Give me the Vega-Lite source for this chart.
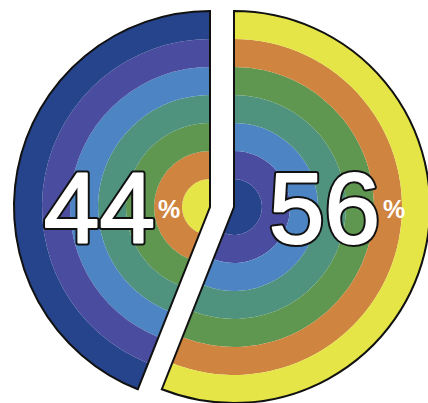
{
  "$schema": "https://vega.github.io/schema/vega-lite/v6.json",
  "width": 428,
  "height": 392,
  "padding": {"top": 11, "left": 0, "right": 0, "bottom": 0},
  "autosize": "none",
  "background": "white",
  "config": {"view": {"stroke": null}},
  "data": {
    "values": [
      {"side": "56%", "value": 56, "ring": 1, "inner": 0, "outer": 1, "band": "darkblue"},
      {"side": "56%", "value": 56, "ring": 2, "inner": 1, "outer": 2, "band": "purple"},
      {"side": "56%", "value": 56, "ring": 3, "inner": 2, "outer": 3, "band": "lightblue"},
      {"side": "56%", "value": 56, "ring": 4, "inner": 3, "outer": 4, "band": "teal"},
      {"side": "56%", "value": 56, "ring": 5, "inner": 4, "outer": 5, "band": "green"},
      {"side": "56%", "value": 56, "ring": 6, "inner": 5, "outer": 6, "band": "orange"},
      {"side": "56%", "value": 56, "ring": 7, "inner": 6, "outer": 7, "band": "yellow"},
      {"side": "44%", "value": 44, "ring": 1, "inner": 0, "outer": 1, "band": "yellow"},
      {"side": "44%", "value": 44, "ring": 2, "inner": 1, "outer": 2, "band": "orange"},
      {"side": "44%", "value": 44, "ring": 3, "inner": 2, "outer": 3, "band": "green"},
      {"side": "44%", "value": 44, "ring": 4, "inner": 3, "outer": 4, "band": "teal"},
      {"side": "44%", "value": 44, "ring": 5, "inner": 4, "outer": 5, "band": "lightblue"},
      {"side": "44%", "value": 44, "ring": 6, "inner": 5, "outer": 6, "band": "purple"},
      {"side": "44%", "value": 44, "ring": 7, "inner": 6, "outer": 7, "band": "darkblue"}
    ]
  },
  "transform": [
    {"stack": "value", "groupby": ["ring"], "sort": [{"field": "side", "order": "descending"}], "as": ["t0", "t1"]}
  ],
  "layer": [
    {
      "encoding": {
        "x": {"field": "side", "type": "nominal", "scale": {"type": "point", "domain": ["44%", "56%"], "range": [210, 234], "padding": 0}, "axis": null},
        "theta": {"field": "t0", "type": "quantitative", "scale": {"domain": [0, 100]}},
        "theta2": {"field": "t1"}
      },
      "layer": [
        {
          "mark": {"type": "arc", "strokeWidth": 0},
          "encoding": {
            "radius": {"field": "outer", "type": "quantitative", "scale": {"type": "linear", "domain": [0, 7], "zero": true}},
            "radius2": {"field": "inner"},
            "color": {
              "field": "band", "type": "nominal", "legend": null,
              "scale": {
                "domain": ["yellow", "orange", "green", "teal", "lightblue", "purple", "darkblue"],
                "range": ["#e5e547", "#cf8540", "#5f9650", "#4f937f", "#4d84c4", "#4a4c9f", "#26448b"]
              }
            }
          }
        },
        {
          "transform": [{"filter": "datum.ring == 7"}],
          "mark": {"type": "arc", "filled": false, "stroke": "#111111", "strokeWidth": 2, "strokeJoin": "miter"},
          "encoding": {
            "radius": {"field": "outer", "type": "quantitative", "scale": {"type": "linear", "domain": [0, 7], "zero": true}}
          }
        }
      ]
    },
    {
      "transform": [{"filter": "datum.ring == 7"}],
      "encoding": {
        "x": {"field": "side", "type": "nominal", "scale": {"type": "point", "domain": ["44%", "56%"], "range": [155, 380], "padding": 0}, "axis": null}
      },
      "layer": [
        {
          "mark": {"type": "text", "align": "right", "baseline": "alphabetic", "dy": 36, "font": "Liberation Sans", "fontSize": 100, "fill": "#111111", "stroke": "#111111", "strokeWidth": 6, "strokeJoin": "round"},
          "encoding": {"text": {"field": "value", "type": "quantitative"}}
        },
        {
          "mark": {"type": "text", "align": "right", "baseline": "alphabetic", "dy": 36, "font": "Liberation Sans", "fontSize": 100, "fill": "white", "stroke": "white", "strokeWidth": 2, "strokeJoin": "round"},
          "encoding": {"text": {"field": "value", "type": "quantitative"}}
        },
        {
          "mark": {"type": "text", "align": "left", "baseline": "alphabetic", "dx": 3, "dy": 11, "font": "Liberation Sans", "fontSize": 25, "fontWeight": "bold", "fill": "white"},
          "encoding": {"text": {"value": "%"}}
        }
      ]
    }
  ],
  "resolve": {"scale": {"x": "independent"}}
}
